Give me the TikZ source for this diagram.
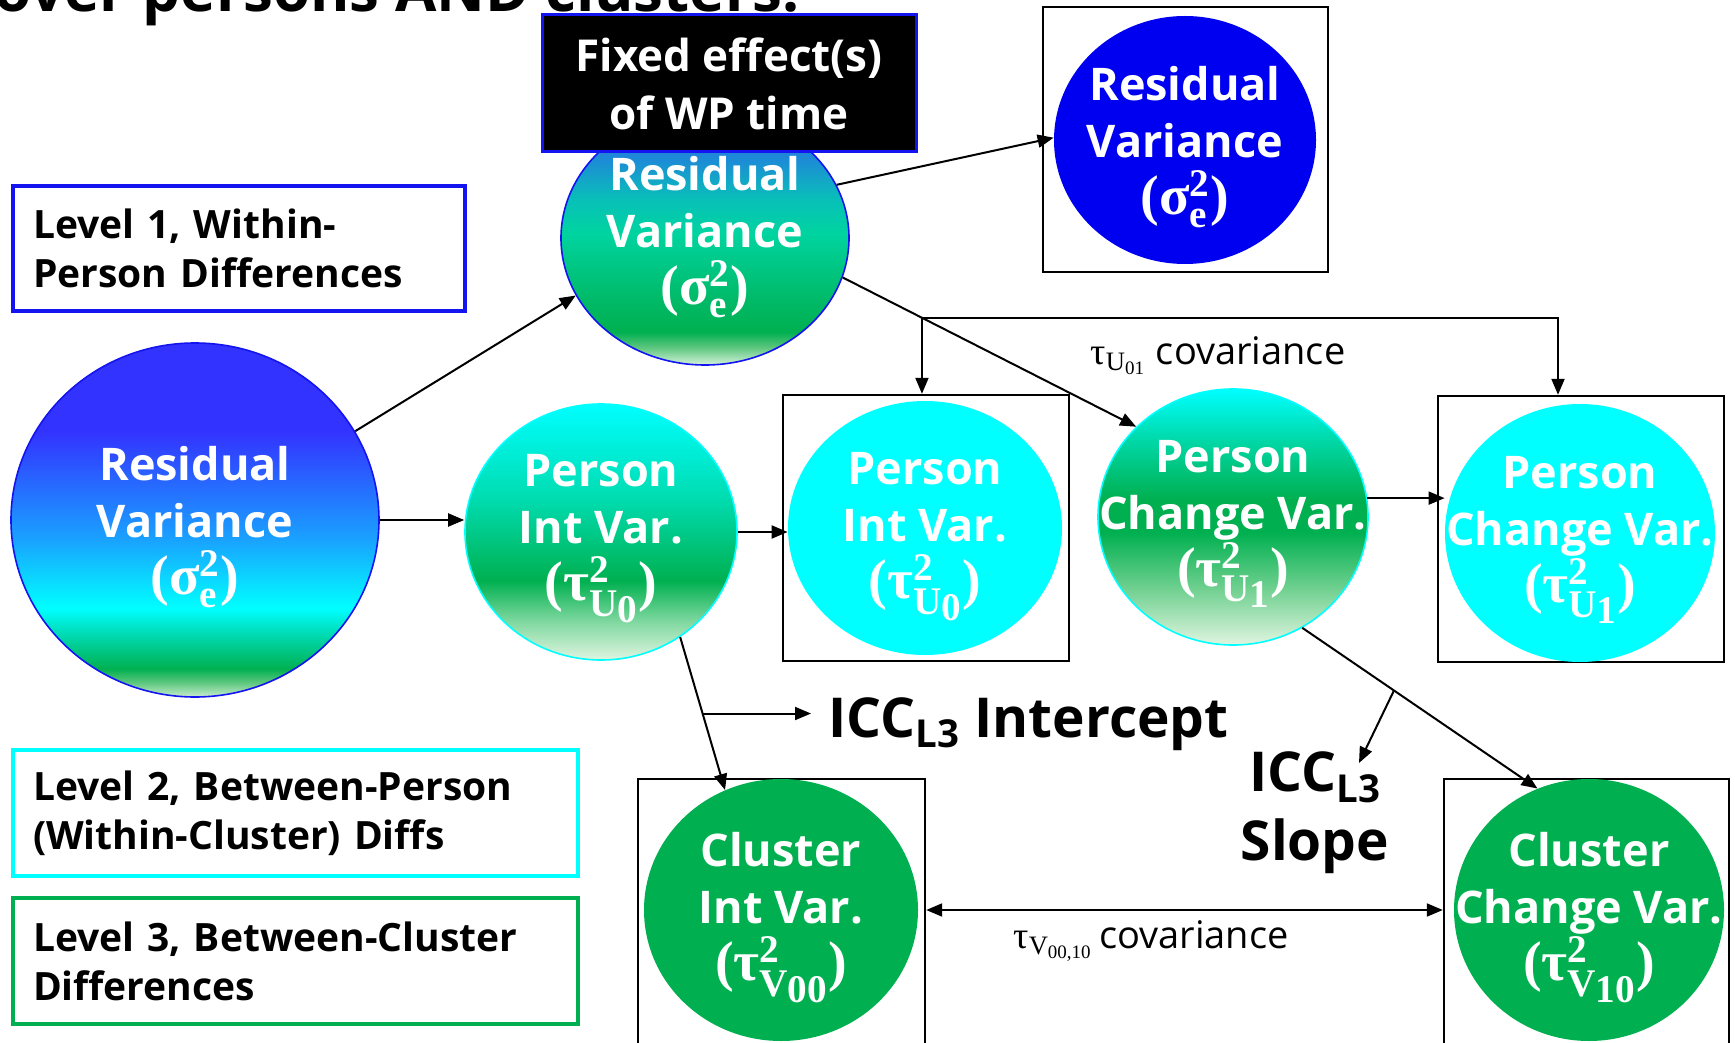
\documentclass[tikz,border=0pt]{standalone}
\usepackage{fontspec}
\usepackage{amsmath}
\setmainfont{Open Sans}
\newfontfamily\grk{Liberation Serif}
\usetikzlibrary{shapes.geometric,arrows.meta}

% palette
\definecolor{lvlblue}{HTML}{1414F0}
\definecolor{cyn}{HTML}{00FFFF}
\definecolor{grn}{HTML}{00B050}
\definecolor{resblue}{HTML}{0000F0}

% level-1 residual shading (blue top, green bottom)
\definecolor{oA}{HTML}{D4F2DA}
\definecolor{oB}{HTML}{5CC67E}
\definecolor{oC}{HTML}{00B050}
\definecolor{oD}{HTML}{00BA68}
\definecolor{oE}{HTML}{00D4A0}
\definecolor{oF}{HTML}{08C0B8}
\definecolor{oG}{HTML}{1E88D8}
\definecolor{oH}{HTML}{2A60E0}
\pgfdeclareverticalshading{shone}{100bp}{color(0bp)=(oA); color(25bp)=(oA);
  color(28.5bp)=(oB); color(31.5bp)=(oC); color(38bp)=(oD); color(51bp)=(oE);
  color(57.5bp)=(oF); color(66bp)=(oG); color(75bp)=(oH); color(100bp)=(oH)}

% whole-model residual shading
\definecolor{bA}{HTML}{C8ECD0}
\definecolor{bB}{HTML}{60C880}
\definecolor{bC}{HTML}{00B050}
\definecolor{bD}{HTML}{00E0C0}
\definecolor{bE}{HTML}{00FFFF}
\definecolor{bF}{HTML}{1AA0FF}
\definecolor{bG}{HTML}{3333FF}
\pgfdeclareverticalshading{shbig}{100bp}{color(0bp)=(bA); color(25bp)=(bA);
  color(27bp)=(bB); color(29bp)=(bC); color(34.5bp)=(bD); color(37.5bp)=(bE);
  color(47.5bp)=(bF); color(62.5bp)=(bG); color(100bp)=(bG)}

% level-2 shadings (cyan top, green, pale bottom)
\definecolor{pA}{HTML}{E0F5E0}
\definecolor{pB}{HTML}{80D8A0}
\definecolor{pC}{HTML}{00B050}
\definecolor{pD}{HTML}{00DCB0}
\definecolor{pE}{HTML}{00FFFF}
\definecolor{pF}{HTML}{70D090}
\definecolor{pG}{HTML}{00D8A8}
\pgfdeclareverticalshading{shint}{100bp}{color(0bp)=(pA); color(25bp)=(pA);
  color(32.5bp)=(pB); color(40.5bp)=(pC); color(56.5bp)=(pD); color(75bp)=(pE);
  color(100bp)=(pE)}
\pgfdeclareverticalshading{shchg}{100bp}{color(0bp)=(pA); color(25bp)=(pA);
  color(36bp)=(pF); color(47bp)=(pC); color(53.5bp)=(pC); color(65bp)=(pG);
  color(75bp)=(pE); color(100bp)=(pE)}

% variance symbol: (base^sup_sub), set a little larger than the words
\newcommand\vsy[3]{{\fontsize{28}{28.5}\selectfont\grk(%
  \ensuremath{\text{\grk #1}^{\text{\grk #2}}_{\text{\grk #3}}}\grk)}}

\begin{document}
\begin{tikzpicture}[x=0.5pt,y=-0.5pt,
  ov/.style={ellipse, inner sep=0pt},
  lab/.style={align=center, text=white, inner sep=0pt,
    font=\bfseries\fontsize{22.5}{28.5}\selectfont},
  framebox/.style={draw=black, line width=1.2pt, fill=white, inner sep=0pt},
  lvl/.style={line width=1.6pt, fill=white, inner xsep=10pt, inner ysep=0pt,
    align=left, font=\bfseries\fontsize{19.5}{24.5}\selectfont},
  arr/.style={line width=1pt, -{Triangle[length=8pt,width=6.5pt]}},
  biarr/.style={line width=1pt, {Triangle[length=8pt,width=6.5pt]}-{Triangle[length=8pt,width=6.5pt]}},
  cov/.style={font=\fontsize{19}{23}\selectfont, inner sep=0pt},
  icc/.style={font=\bfseries\fontsize{27.5}{34.5}\selectfont, inner sep=0pt}]
\useasboundingbox (0,0) rectangle (1735,1043);
\clip (0,0) rectangle (1735,1043);
\fill[white] (0,0) rectangle (1735,1043);

% heading line running off the top edge
\node[anchor=base west, inner sep=0pt, font=\bfseries\fontsize{30}{36}\selectfont]
  (title) at (-6,12) {over persons AND clusters:};

% level legend boxes
\node[lvl, draw=lvlblue, minimum width=226pt, minimum height=62.5pt, text width=206pt]
  (lev1) at (239,248.5) {Level 1, Within-\\Person Differences};
\node[lvl, draw=cyn, minimum width=282.5pt, minimum height=63pt, text width=262.5pt]
  (lev2) at (295.5,813) {Level 2, Between-Person\\(Within-Cluster) Diffs};
\node[lvl, draw=grn, minimum width=282.5pt, minimum height=63pt, text width=262.5pt]
  (lev3) at (295.5,961) {Level 3, Between-Cluster\\Differences};

% framed variance components
\node[framebox, minimum width=142.5pt, minimum height=132.5pt] (resBox) at (1185.5,139.5) {};
\node[framebox, minimum width=143pt, minimum height=133pt] (pintBox) at (926,528) {};
\node[framebox, minimum width=143pt, minimum height=133pt] (pchgBox) at (1581,529) {};
\node[framebox, minimum width=143.5pt, minimum height=140.5pt] (cintBox) at (781.5,919.5) {};
\node[framebox, minimum width=142.5pt, minimum height=140.5pt] (cchgBox) at (1586.5,919.5) {};

\node[ov, fill=resblue, minimum width=131pt, minimum height=124pt] (resB) at (1185,140) {};
\node[lab] (resB-t) at ([yshift=-3.5pt]resB.center) {Residual\\Variance\\\vsy{σ}{2}{e}};
\node[ov, fill=cyn, minimum width=137pt, minimum height=127pt] (pintB) at (925,528) {};
\node[lab] (pintB-t) at ([yshift=-4.5pt]pintB.center) {Person\\Int Var.\\\vsy{τ}{2}{U\raisebox{-.35ex}{0}}};
\node[ov, fill=cyn, minimum width=135pt, minimum height=129pt] (pchgB) at (1580,533) {};
\node[lab] (pchgB-t) at ([yshift=-3.5pt]pchgB.center) {Person\\Change Var.\\\vsy{τ}{2}{U\raisebox{-.35ex}{1}}};
\node[ov, fill=grn, minimum width=137pt, minimum height=131pt] (cint) at (781,910) {};
\node[lab] (cint-t) at ([yshift=-4pt]cint.center) {Cluster\\Int Var.\\\vsy{τ}{2}{V\raisebox{-.35ex}{00}}};
\node[ov, fill=grn, minimum width=135pt, minimum height=131pt] (cchg) at (1589,910) {};
\node[lab] (cchg-t) at ([yshift=-4pt]cchg.center) {Cluster\\Change Var.\\\vsy{τ}{2}{V\raisebox{-.35ex}{10}}};

% shaded (partitioned) components
\node[ov, shading=shbig, draw=lvlblue, line width=0.8pt, minimum width=184pt, minimum height=177pt]
  (resL) at (195,520) {};
\node[lab] (resL-t) at ([yshift=-3.5pt]resL.center) {Residual\\Variance\\\vsy{σ}{2}{e}};
\node[ov, shading=shone, draw=lvlblue, line width=0.8pt, minimum width=144pt, minimum height=127pt]
  (res1) at (705,238) {};
\node[lab] (res1-t) at ([yshift=0.5pt]res1.center) {Residual\\Variance\\\vsy{σ}{2}{e}};
\node[ov, shading=shint, draw=cyn, line width=0.8pt, minimum width=136pt, minimum height=128pt]
  (pint) at (601,532) {};
\node[lab] (pint-t) at ([yshift=-3.5pt]pint.center) {Person\\Int Var.\\\vsy{τ}{2}{U\raisebox{-.35ex}{0}}};
\node[ov, shading=shchg, draw=cyn, line width=0.8pt, minimum width=135pt, minimum height=128pt]
  (pchg) at (1233,517) {};
\node[lab] (pchg-t) at ([yshift=-3.5pt]pchg.center) {Person\\Change Var.\\\vsy{τ}{2}{U\raisebox{-.35ex}{1}}};

% fixed effects label over the level-1 residual
\node[fill=black, draw=lvlblue, line width=1.5pt, text=white, align=center, inner sep=0pt,
  minimum width=187pt, minimum height=68.5pt, font=\bfseries\fontsize{22}{29}\selectfont]
  (fixed) at (729,83.5) {Fixed effect(s)\\of WP time};

% partition arrows
\draw[arr] (resL.29) -- (res1.204);
\draw[arr] (resL.east) -- (resL.east -| pint.west);
\draw[arr] (res1.22) -- (resB.179);
\draw[arr] (res1.-16) -- coordinate[pos=0.27] (cv) (pchg.137);
\draw[arr] (pint.east) -- (pint.east -| pintB.west);
\draw[arr] (pchg.8) -- (pchg.8 -| pchgB.west);
\draw[arr] (pint.-53) -- coordinate[pos=0.5] (ci) (cint.115);
\draw[arr] (pchg.-58) -- coordinate[pos=0.39] (cs) (cchg.113);

% level-2 covariance
\draw[arr] (cv) -- (cv |- pintBox.north);
\draw[arr] (cv) -| ([xshift=-11.5pt]pchgBox.north);
\node[cov] (covU) at (1218,356)
  {{\grk τ}\ensuremath{_{\text{\grk U}_{\text{\grk 01}}}}\ covariance};

% level-3 covariance
\draw[biarr] (cint.east -| cintBox.east) -- (cchg.west -| cchgBox.west);
\node[cov] (covV) at (1151,941)
  {{\grk τ}\ensuremath{_{\text{\grk V}_{\text{\grk 00,10}}}}\,covariance};

% intraclass correlations
\node[icc, anchor=base west] (iccI) at (828,737) {ICC$_{\text{L3}}$ Intercept};
\coordinate (ciEnd) at ([xshift=-8.5pt]iccI.west);
\draw[arr] (ci) -- (ci -| ciEnd);
\node[icc, align=center] (iccS) at (1315,813) {ICC$_{\text{L3}}$\\Slope};
\coordinate (csEnd) at (1359,763);
\draw[arr] (cs) -- (csEnd);
\end{tikzpicture}
\end{document}
